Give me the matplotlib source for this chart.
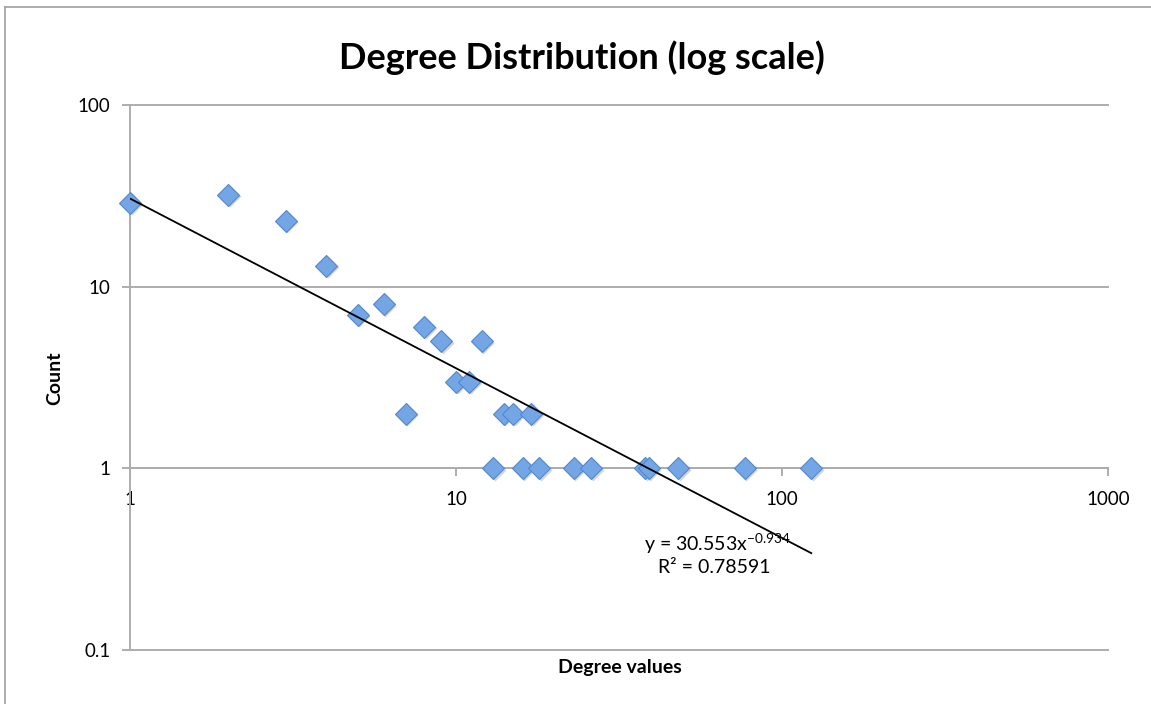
import numpy as np
import matplotlib
matplotlib.use("Agg")
import matplotlib.pyplot as plt
import matplotlib.transforms as mtransforms
from matplotlib.lines import Line2D

# degree value -> number of nodes with that degree
degree = [1, 2, 3, 4, 5, 6, 7, 8, 9, 10, 11, 12, 13, 14, 15, 16, 17, 18,
          23, 26, 38, 39, 48, 77, 123]
count = [29, 32, 23, 13, 7, 8, 2, 6, 5, 3, 3, 5, 1, 2, 2, 1, 2, 1,
         1, 1, 1, 1, 1, 1, 1]

# power trendline shown on the chart
fit_a = 30.553
fit_b = -0.934
fit_r2 = 0.78591

xticks = [1, 10, 100, 1000]
yticks = [0.1, 1, 10, 100]

plt.rcParams['font.family'] = ['Lato', 'DejaVu Sans']
plt.rcParams['mathtext.fontset'] = 'custom'
plt.rcParams['mathtext.rm'] = 'Lato'
grid_col = "#ADADAD"

fig = plt.figure(figsize=(11.51, 7.04), dpi=100)
ax = fig.add_axes([130 / 1151, 1 - 650 / 704, 978 / 1151, 545 / 704])

ax.set_xscale("log")
ax.set_yscale("log")
ax.set_xlim(1, 1000)
ax.set_ylim(0.1, 100)

# horizontal grid
for yv in yticks:
    ax.axhline(yv, color=grid_col, lw=1.4, zorder=0, clip_on=False)

# shadow under markers
shadow = mtransforms.offset_copy(ax.transData, fig=fig, x=1.5, y=-1.5, units="dots")
ax.plot(degree, count, "D", ms=10.8, color="#000000", alpha=0.16, mec="none",
        transform=shadow, zorder=2, clip_on=False)
ax.plot(degree, count, "D", ms=10.8, mfc="#74A5E4", mec="#5288CC", mew=0.8,
        zorder=3, clip_on=False)

# trendline
xs = np.linspace(min(degree), max(degree), 200)
ax.plot(xs, fit_a * xs ** fit_b, color="black", lw=1.3, zorder=4)

ax.text(0.601, 0.196, "y = %.3fx$^{\\mathregular{%.3f}}$" % (fit_a, fit_b),
        transform=ax.transAxes, ha="center", va="center", fontsize=14)
ax.text(0.597, 0.152, "R² = %.5f" % fit_r2, transform=ax.transAxes,
        ha="center", va="center", fontsize=14)

# axes styling
for s in ["top", "right"]:
    ax.spines[s].set_visible(False)
ax.spines["left"].set_color(grid_col)
ax.spines["left"].set_linewidth(1.4)
ax.spines["bottom"].set_position(("data", 1))
ax.spines["bottom"].set_color(grid_col)
ax.spines["bottom"].set_linewidth(1.4)

ax.set_xticks(xticks)
ax.set_xticklabels([str(v) for v in xticks])
ax.set_yticks(yticks)
ax.set_yticklabels(["0.1", "1", "10", "100"])
ax.minorticks_off()
ax.tick_params(axis="both", colors=grid_col, labelcolor="black", labelsize=13.5,
               width=1.4, length=6, direction="out")
ax.tick_params(axis="x", pad=10)
ax.tick_params(axis="y", pad=8)

fig.text(0.5052, 1 - 58 / 704, "Degree Distribution (log scale)", ha="center",
         va="center", fontsize=26, fontweight="bold")
fig.text(620 / 1151, 1 - 667 / 704, "Degree values", ha="center", va="center",
         fontsize=14, fontweight="bold")
fig.text(55 / 1151, 1 - 378 / 704, "Count", ha="center", va="center",
         fontsize=14, fontweight="bold", rotation=90)

# outer chart border (cut off at right and bottom)
fig.add_artist(Line2D([5 / 1151, 5 / 1151], [0, 1 - 7 / 704], color="#A0A0A0",
                      lw=1.2, transform=fig.transFigure))
fig.add_artist(Line2D([5 / 1151, 1], [1 - 7 / 704, 1 - 7 / 704], color="#A0A0A0",
                      lw=1.2, transform=fig.transFigure))

fig.savefig("out.png", dpi=100)
